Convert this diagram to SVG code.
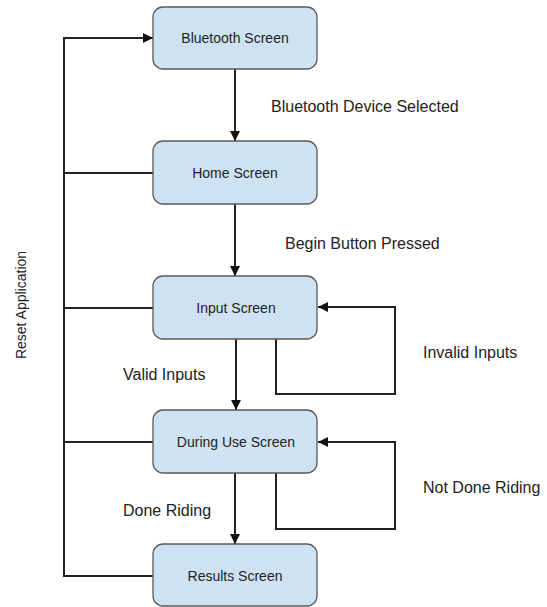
<svg xmlns="http://www.w3.org/2000/svg" width="547" height="607" viewBox="0 0 547 607">
<style>
.box{fill:#cfe2f3;stroke:#595959;stroke-width:1.3}
.bl{font-family:"Liberation Sans",Arial,sans-serif;font-size:14px;fill:#222;text-anchor:middle}
.el{font-family:"Liberation Sans",Arial,sans-serif;font-size:16px;fill:#222}
.c{fill:none;stroke:#222;stroke-width:2}
</style>
<defs>
<marker id="ah" viewBox="0 0 10 10" refX="10" refY="5" markerWidth="10" markerHeight="10" markerUnits="userSpaceOnUse" orient="auto">
<path d="M0,0 L10,5 L0,10 z" fill="#111"/>
</marker>
</defs>
<rect width="547" height="607" fill="#fff"/>
<g id="connectors">
<path class="c" d="M235,69 V141" marker-end="url(#ah)"/>
<path class="c" d="M235,204 V276" marker-end="url(#ah)"/>
<path class="c" d="M236,339 V410" marker-end="url(#ah)"/>
<path class="c" d="M235,473 V544" marker-end="url(#ah)"/>
<path class="c" d="M276,339 V394 H395 V307 H318" marker-end="url(#ah)"/>
<path class="c" d="M276,473 V529 H395 V442 H318" marker-end="url(#ah)"/>
<path class="c" d="M153,576 H64 V38 H153" marker-end="url(#ah)"/>
<path class="c" d="M153,173 H64"/>
<path class="c" d="M153,308 H64"/>
<path class="c" d="M153,442 H64"/>
</g>
<g id="bluetooth"><rect class="box" x="153" y="7" width="164" height="62" rx="10"/><text class="bl" x="235" y="43">Bluetooth Screen</text></g>
<g id="home"><rect class="box" x="153" y="141" width="164" height="63" rx="10"/><text class="bl" x="235" y="178">Home Screen</text></g>
<g id="input"><rect class="box" x="153" y="276" width="164" height="63" rx="10"/><text class="bl" x="236" y="313">Input Screen</text></g>
<g id="during"><rect class="box" x="153" y="410" width="164" height="63" rx="10"/><text class="bl" x="236" y="447">During Use Screen</text></g>
<g id="results"><rect class="box" x="153" y="544" width="164" height="62" rx="10"/><text class="bl" x="235" y="581">Results Screen</text></g>
<g id="labels">
<text class="el" x="271" y="112">Bluetooth Device Selected</text>
<text class="el" x="285" y="249">Begin Button Pressed</text>
<text class="el" x="123" y="380">Valid Inputs</text>
<text class="el" x="423" y="358">Invalid Inputs</text>
<text class="el" x="123" y="516">Done Riding</text>
<text class="el" x="423" y="493">Not Done Riding</text>
<text x="26" y="305" transform="rotate(-90 26 305)" style="font-family:'Liberation Sans',Arial,sans-serif;font-size:14px;fill:#222;text-anchor:middle">Reset Application</text>
</g>
</svg>
